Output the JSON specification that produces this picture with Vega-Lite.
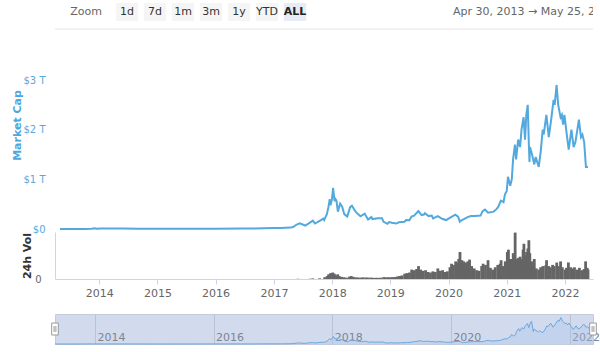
{
  "$schema": "https://vega.github.io/schema/vega-lite/v6.json",
  "background": "white",
  "padding": {"left": 11, "top": 0, "right": 8, "bottom": 8},
  "bounds": "flush",
  "spacing": 35,
  "config": {"view": {"stroke": null}, "font": "DejaVu Sans"},
  "datasets": {
    "mc": [
      {"d":"2013-04-30","v":1.6},{"d":"2013-07-01","v":1.2},{"d":"2013-10-01","v":2},{"d":"2013-11-15","v":6},{"d":"2013-12-04","v":15},{"d":"2013-12-18","v":7},
      {"d":"2014-01-06","v":12},{"d":"2014-03-01","v":8},{"d":"2014-06-01","v":8.5},{"d":"2014-09-01","v":6.5},{"d":"2014-12-01","v":5},
      {"d":"2015-01-14","v":3},{"d":"2015-06-01","v":3.8},{"d":"2015-11-04","v":6.5},{"d":"2016-01-01","v":7},{"d":"2016-06-16","v":12},{"d":"2016-08-02","v":9},{"d":"2016-12-31","v":18},
      {"d":"2017-02-15","v":19},{"d":"2017-03-15","v":24},{"d":"2017-04-15","v":28},{"d":"2017-05-01","v":40},{"d":"2017-05-24","v":90},{"d":"2017-06-12","v":113},{"d":"2017-07-16","v":70},{"d":"2017-08-05","v":110},{"d":"2017-09-02","v":170},{"d":"2017-09-15","v":110},{"d":"2017-10-12","v":160},{"d":"2017-11-07","v":210},{"d":"2017-11-12","v":180},{"d":"2017-11-29","v":300},{"d":"2017-12-08","v":430},{"d":"2017-12-17","v":600},{"d":"2017-12-22","v":480},{"d":"2017-12-31","v":600},
      {"d":"2018-01-07","v":830},{"d":"2018-01-16","v":560},{"d":"2018-01-20","v":610},{"d":"2018-01-28","v":570},{"d":"2018-02-06","v":350},{"d":"2018-02-20","v":510},{"d":"2018-03-05","v":450},{"d":"2018-03-18","v":300},{"d":"2018-04-06","v":250},{"d":"2018-04-24","v":440},{"d":"2018-05-05","v":470},{"d":"2018-05-28","v":350},{"d":"2018-06-12","v":300},{"d":"2018-06-28","v":255},{"d":"2018-07-24","v":310},{"d":"2018-08-14","v":190},{"d":"2018-09-04","v":240},{"d":"2018-09-11","v":200},{"d":"2018-10-15","v":215},{"d":"2018-11-10","v":215},{"d":"2018-11-20","v":145},{"d":"2018-12-14","v":105},{"d":"2018-12-24","v":140},
      {"d":"2019-01-10","v":125},{"d":"2019-02-07","v":110},{"d":"2019-02-24","v":135},{"d":"2019-03-31","v":145},{"d":"2019-04-10","v":180},{"d":"2019-05-01","v":175},{"d":"2019-05-14","v":250},{"d":"2019-05-30","v":270},{"d":"2019-06-26","v":360},{"d":"2019-07-16","v":280},{"d":"2019-07-31","v":290},{"d":"2019-08-06","v":320},{"d":"2019-08-29","v":260},{"d":"2019-09-18","v":270},{"d":"2019-09-26","v":215},{"d":"2019-10-26","v":260},{"d":"2019-11-22","v":205},{"d":"2019-12-17","v":180},
      {"d":"2020-01-14","v":235},{"d":"2020-02-13","v":290},{"d":"2020-03-01","v":250},{"d":"2020-03-12","v":145},{"d":"2020-03-20","v":170},{"d":"2020-04-30","v":240},{"d":"2020-05-20","v":260},{"d":"2020-06-15","v":260},{"d":"2020-07-20","v":270},{"d":"2020-08-02","v":360},{"d":"2020-08-17","v":390},{"d":"2020-09-05","v":330},{"d":"2020-10-10","v":350},{"d":"2020-10-28","v":400},{"d":"2020-11-09","v":450},{"d":"2020-11-24","v":570},{"d":"2020-12-11","v":540},{"d":"2020-12-20","v":700},{"d":"2020-12-31","v":760},
      {"d":"2021-01-08","v":1050},{"d":"2021-01-22","v":870},{"d":"2021-02-01","v":1000},{"d":"2021-02-09","v":1400},{"d":"2021-02-21","v":1700},{"d":"2021-02-28","v":1400},{"d":"2021-03-13","v":1800},{"d":"2021-03-25","v":1650},{"d":"2021-04-03","v":2000},{"d":"2021-04-16","v":2250},{"d":"2021-04-25","v":1800},{"d":"2021-05-03","v":2300},{"d":"2021-05-12","v":2500},{"d":"2021-05-19","v":1700},{"d":"2021-05-23","v":1350},{"d":"2021-05-26","v":1650},{"d":"2021-06-08","v":1500},{"d":"2021-06-22","v":1300},{"d":"2021-07-01","v":1450},{"d":"2021-07-20","v":1250},{"d":"2021-08-01","v":1550},{"d":"2021-08-14","v":2000},{"d":"2021-08-20","v":1900},{"d":"2021-09-06","v":2300},{"d":"2021-09-21","v":1850},{"d":"2021-10-06","v":2200},{"d":"2021-10-21","v":2600},{"d":"2021-10-28","v":2500},{"d":"2021-11-09","v":2900},{"d":"2021-11-19","v":2500},{"d":"2021-12-04","v":2250},{"d":"2021-12-12","v":2300},{"d":"2021-12-20","v":2100},{"d":"2021-12-28","v":2300},
      {"d":"2022-01-10","v":1950},{"d":"2022-01-24","v":1600},{"d":"2022-02-10","v":2000},{"d":"2022-02-24","v":1650},{"d":"2022-03-07","v":1750},{"d":"2022-03-29","v":2200},{"d":"2022-04-11","v":1850},{"d":"2022-04-20","v":1900},{"d":"2022-05-01","v":1750},{"d":"2022-05-12","v":1250},{"d":"2022-05-25","v":1250}
    ],
    "vol": [
      {"d":"2017-06-01","v":2},{"d":"2017-08-15","v":3},{"d":"2017-09-01","v":5},{"d":"2017-10-15","v":6},{"d":"2017-11-15","v":15},{"d":"2017-12-01","v":25},{"d":"2017-12-10","v":40},{"d":"2017-12-22","v":50},
      {"d":"2018-01-05","v":55},{"d":"2018-01-15","v":45},{"d":"2018-01-25","v":30},{"d":"2018-02-05","v":40},{"d":"2018-02-15","v":25},{"d":"2018-03-01","v":18},{"d":"2018-03-15","v":15},{"d":"2018-04-01","v":12},{"d":"2018-04-20","v":20},{"d":"2018-05-01","v":25},{"d":"2018-05-15","v":18},{"d":"2018-06-01","v":14},{"d":"2018-06-15","v":12},{"d":"2018-07-01","v":12},{"d":"2018-07-15","v":14},{"d":"2018-08-01","v":13},{"d":"2018-08-15","v":12},{"d":"2018-09-01","v":12},{"d":"2018-09-15","v":10},{"d":"2018-10-01","v":10},{"d":"2018-10-15","v":10},{"d":"2018-11-01","v":11},{"d":"2018-11-20","v":16},{"d":"2018-12-01","v":14},{"d":"2018-12-15","v":15},
      {"d":"2019-01-01","v":15},{"d":"2019-01-15","v":16},{"d":"2019-02-01","v":17},{"d":"2019-02-15","v":22},{"d":"2019-03-01","v":26},{"d":"2019-03-15","v":30},{"d":"2019-04-01","v":45},{"d":"2019-04-15","v":50},{"d":"2019-05-01","v":55},{"d":"2019-05-15","v":80},{"d":"2019-06-01","v":75},{"d":"2019-06-15","v":85},{"d":"2019-06-27","v":110},{"d":"2019-07-10","v":80},{"d":"2019-07-25","v":70},{"d":"2019-08-10","v":75},{"d":"2019-08-25","v":60},{"d":"2019-09-10","v":55},{"d":"2019-09-25","v":65},{"d":"2019-10-10","v":60},{"d":"2019-10-26","v":90},{"d":"2019-11-10","v":70},{"d":"2019-11-25","v":75},{"d":"2019-12-10","v":60},{"d":"2019-12-25","v":65},
      {"d":"2020-01-10","v":100},{"d":"2020-01-20","v":130},{"d":"2020-02-01","v":120},{"d":"2020-02-15","v":150},{"d":"2020-02-25","v":140},{"d":"2020-03-05","v":170},{"d":"2020-03-13","v":230},{"d":"2020-03-25","v":160},{"d":"2020-04-05","v":150},{"d":"2020-04-20","v":140},{"d":"2020-05-01","v":150},{"d":"2020-05-12","v":165},{"d":"2020-05-25","v":110},{"d":"2020-06-10","v":90},{"d":"2020-06-25","v":75},{"d":"2020-07-10","v":70},{"d":"2020-07-27","v":110},{"d":"2020-08-05","v":130},{"d":"2020-08-20","v":120},{"d":"2020-09-05","v":160},{"d":"2020-09-20","v":95},{"d":"2020-10-05","v":80},{"d":"2020-10-20","v":100},{"d":"2020-11-05","v":120},{"d":"2020-11-20","v":130},{"d":"2020-11-26","v":160},{"d":"2020-12-10","v":110},{"d":"2020-12-22","v":150},
      {"d":"2021-01-04","v":230},{"d":"2021-01-11","v":250},{"d":"2021-01-20","v":170},{"d":"2021-02-01","v":170},{"d":"2021-02-10","v":220},{"d":"2021-02-22","v":395},{"d":"2021-03-05","v":170},{"d":"2021-03-15","v":180},{"d":"2021-03-25","v":190},{"d":"2021-04-05","v":170},{"d":"2021-04-13","v":250},{"d":"2021-04-18","v":300},{"d":"2021-04-25","v":200},{"d":"2021-05-05","v":230},{"d":"2021-05-13","v":260},{"d":"2021-05-19","v":330},{"d":"2021-05-25","v":220},{"d":"2021-06-05","v":150},{"d":"2021-06-15","v":110},{"d":"2021-06-22","v":170},{"d":"2021-07-05","v":90},{"d":"2021-07-20","v":80},{"d":"2021-08-01","v":100},{"d":"2021-08-15","v":110},{"d":"2021-09-01","v":115},{"d":"2021-09-07","v":160},{"d":"2021-09-20","v":110},{"d":"2021-10-01","v":100},{"d":"2021-10-15","v":120},{"d":"2021-10-25","v":110},{"d":"2021-11-10","v":140},{"d":"2021-11-20","v":110},{"d":"2021-12-04","v":150},{"d":"2021-12-15","v":100},
      {"d":"2022-01-01","v":80},{"d":"2022-01-10","v":95},{"d":"2022-01-22","v":140},{"d":"2022-02-05","v":100},{"d":"2022-02-20","v":90},{"d":"2022-03-01","v":100},{"d":"2022-03-15","v":80},{"d":"2022-04-01","v":95},{"d":"2022-04-15","v":75},{"d":"2022-05-01","v":85},{"d":"2022-05-10","v":150},{"d":"2022-05-20","v":95},{"d":"2022-05-25","v":80}
    ],
    "btn": [{"b":"1d"},{"b":"7d"},{"b":"1m"},{"b":"3m"},{"b":"1y"},{"b":"YTD"},{"b":"ALL"}],
    "hdr": [{"k":"Zoom","t":"Zoom"},{"k":"date","t":"Apr 30, 2013  →  May 25, 2022"}],
    "ends": [{"d":"2013-04-30"},{"d":"2022-05-25"}]
  },
  "vconcat": [
    {
      "width": 538,
      "height": 29,
      "layer": [
        {
          "data": {"name": "btn"},
          "encoding": {"x": {"field": "b", "type": "nominal", "sort": null, "axis": null,
            "scale": {"type": "band", "domain": ["1d","7d","1m","3m","1y","YTD","ALL"], "range": [58, 254], "paddingInner": 0.2, "paddingOuter": 0.1}}},
          "layer": [
            {"mark": {"type": "point", "shape": "M-1,-0.8H1V0.8H-1Z", "size": 500, "filled": true, "opacity": 1, "yOffset": -2.5},
             "encoding": {"fill": {"condition": {"test": "datum.b === 'ALL'", "value": "#e6ebf5"}, "value": "#f5f5f5"}}},
            {"transform": [{"filter": "datum.b !== 'ALL'"}],
             "mark": {"type": "text", "fontSize": 11, "color": "#333333", "dy": -2.5},
             "encoding": {"text": {"field": "b"}}},
            {"transform": [{"filter": "datum.b === 'ALL'"}],
             "mark": {"type": "text", "fontSize": 11, "fontWeight": "bold", "color": "#222222", "dy": -2.5},
             "encoding": {"text": {"field": "b"}}}
          ]
        },
        {
          "data": {"name": "hdr"},
          "encoding": {
            "x": {"field": "k", "type": "nominal", "sort": null, "axis": null,
              "scale": {"type": "point", "domain": ["Zoom","date"], "range": [31, 398], "padding": 0}},
            "text": {"field": "t"}
          },
          "layer": [
            {"transform": [{"filter": "datum.k === 'Zoom'"}],
             "mark": {"type": "text", "fontSize": 11, "color": "#666666", "dy": -2.5, "align": "center"}},
            {"transform": [{"filter": "datum.k === 'date'"}],
             "mark": {"type": "text", "fontSize": 11, "color": "#666666", "dy": -2.5, "align": "left", "clip": true}}
          ]
        },
        {
          "data": {"values": [{"r": 0}]},
          "mark": {"type": "rule", "color": "#e6e6e6", "strokeWidth": 1},
          "encoding": {"y": {"field": "r", "type": "quantitative", "axis": null, "scale": {"domain": [0, 1]}}}
        }
      ],
      "resolve": {"scale": {"x": "independent"}}
    },
    {
      "width": 538,
      "height": 215,
      "encoding": {
        "x": {"field": "d", "type": "temporal",
          "scale": {"domain": [{"year": 2013, "month": 4, "date": 30}, {"year": 2022, "month": 5, "date": 25}]},
          "axis": {"title": null, "format": "%Y", "tickCount": {"interval": "year", "step": 1}, "grid": false,
            "labelColor": "#666666", "labelFontSize": 11, "tickColor": "#ccd6eb", "domainColor": "#ccd6eb", "tickSize": 5, "labelPadding": 3, "labelFlush": false}}
      },
      "layer": [
        {
          "data": {"name": "vol"},
          "mark": {"type": "bar", "width": 2.8, "color": "#656565"},
          "encoding": {
            "y": {"field": "v", "type": "quantitative",
              "scale": {"domain": [0, 400], "nice": false, "range": [215, 168]},
              "axis": {"orient": "left", "values": [0], "title": "24h Vol", "titleColor": "#333333", "titleFontSize": 11, "titleFontWeight": "bold", "titlePadding": 2,
                "labelColor": "#666666", "labelFontSize": 10, "labelPadding": 14, "grid": false, "ticks": false, "domain": true, "domainColor": "#ccd6eb"}}
          }
        },
        {
          "data": {"name": "mc"},
          "mark": {"type": "line", "color": "#52a9de", "strokeWidth": 2},
          "encoding": {
            "y": {"field": "v", "type": "quantitative",
              "scale": {"domain": [0, 3000], "nice": false, "range": [165, 16]},
              "axis": {"orient": "left", "values": [0, 1000, 2000, 3000], "labelExpr": "datum.value == 0 ? '$0' : '$' + (datum.value / 1000) + ' T'",
                "title": "Market Cap", "titleColor": "#4fa6dc", "titleFontSize": 11, "titleFontWeight": "bold", "titlePadding": 0, "titleY": 61,
                "labelColor": "#5aa9dc", "labelFontSize": 10, "labelPadding": 10, "ticks": false, "domain": false, "gridColor": "#ececec"}}
          }
        }
      ],
      "resolve": {"scale": {"y": "independent"}, "axis": {"y": "independent"}}
    },
    {
      "width": 538,
      "height": 30,
      "view": {"fill": "#d2dbee", "stroke": "#c3cbdc"},
      "encoding": {
        "x": {"field": "d", "type": "temporal",
          "scale": {"domain": [{"year": 2013, "month": 4, "date": 30}, {"year": 2022, "month": 5, "date": 25}]},
          "axis": {"title": null, "format": "%Y", "tickCount": {"interval": "year", "step": 2}, "grid": true, "gridColor": "#b9c2d6",
            "domain": false, "ticks": false, "tickSize": 0, "labelAlign": "left", "labelBaseline": "bottom", "labelPadding": -2, "labelOffset": 2,
            "labelColor": "#7d8594", "labelFontSize": 11, "labelFlush": false}}
      },
      "layer": [
        {
          "data": {"name": "mc"},
          "mark": {"type": "area", "color": "#a9c7ec", "opacity": 0.35},
          "encoding": {"y": {"field": "v", "type": "quantitative", "axis": null, "scale": {"domain": [0, 3300], "nice": false}}}
        },
        {
          "data": {"name": "mc"},
          "mark": {"type": "line", "color": "#6aa9de", "strokeWidth": 1},
          "encoding": {"y": {"field": "v", "type": "quantitative", "axis": null, "scale": {"domain": [0, 3300], "nice": false}}}
        },
        {
          "data": {"name": "ends"},
          "mark": {"type": "point", "shape": "M-0.55,-1H0.55V1H-0.55Z", "size": 144, "filled": false, "fill": "#ffffff", "stroke": "#999999", "strokeWidth": 1, "opacity": 1}
        },
        {
          "data": {"name": "ends"},
          "mark": {"type": "point", "shape": "M-0.15,-0.5V0.5M0.15,-0.5V0.5", "size": 144, "filled": false, "stroke": "#999999", "strokeWidth": 1, "opacity": 1}
        }
      ]
    }
  ]
}
